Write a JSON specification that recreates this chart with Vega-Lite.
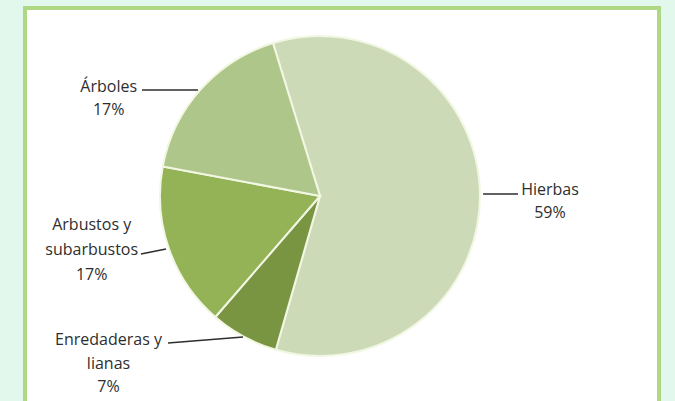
{
  "$schema": "https://vega.github.io/schema/vega-lite/v6.json",
  "width": 634,
  "height": 400,
  "padding": {"left": 25, "top": 8, "right": 16, "bottom": -7},
  "background": "#e3f8ed",
  "config": {
    "view": {"fill": "#ffffff", "stroke": "#afd885", "strokeWidth": 4},
    "text": {"font": "Open Sans", "fontSize": 16, "color": "#2e2e2e"}
  },
  "data": {
    "values": [
      {"categoria": "Hierbas", "etiqueta": "Hierbas", "valor": 59.2, "orden": 1},
      {"categoria": "Enredaderas y lianas", "etiqueta": "Enredaderas y\nlianas", "valor": 6.9, "orden": 2},
      {"categoria": "Arbustos y subarbustos", "etiqueta": "Arbustos y\nsubarbustos", "valor": 16.6, "orden": 3},
      {"categoria": "Árboles", "etiqueta": "Árboles", "valor": 17.3, "orden": 4}
    ]
  },
  "transform": [
    {"window": [{"op": "sum", "field": "valor", "as": "acum"}], "sort": [{"field": "orden"}], "frame": [null, 0]},
    {"calculate": "datum.acum - datum.valor / 2", "as": "medio"},
    {"calculate": "datum.etiqueta + '\\n' + format(datum.valor / 100, '.0%')", "as": "etq"}
  ],
  "encoding": {
    "x": {"datum": 0, "type": "quantitative", "scale": {"domain": [-1.84375, 2.11875], "nice": false, "zero": false}, "axis": null},
    "y": {"datum": 0, "type": "quantitative", "scale": {"domain": [-1.325, 1.175], "nice": false, "zero": false}, "axis": null}
  },
  "layer": [
    {
      "mark": {"type": "arc", "radius": 160, "stroke": "#f2f7e4", "strokeWidth": 2},
      "encoding": {
        "theta": {"field": "valor", "type": "quantitative", "stack": true, "scale": {"domain": [0, 100], "range": [-0.29845, 5.98474]}},
        "color": {
          "field": "categoria", "type": "nominal", "legend": null,
          "scale": {
            "domain": ["Hierbas", "Enredaderas y lianas", "Arbustos y subarbustos", "Árboles"],
            "range": ["#cddab7", "#7a9542", "#94b357", "#afc68a"]
          }
        },
        "order": {"field": "orden", "type": "quantitative"}
      }
    },
    {
      "transform": [{"filter": "datum.orden === 1"}],
      "mark": {"type": "text", "radius": 230, "dx": 0, "dy": 1, "align": "center", "baseline": "alphabetic", "lineBreak": "\n", "lineHeight": 23},
      "encoding": {"theta": {"field": "medio", "type": "quantitative", "stack": null}, "text": {"field": "etq"}}
    },
    {
      "transform": [{"filter": "datum.orden === 2"}],
      "mark": {"type": "text", "radius": 232, "dx": -101, "dy": -55, "align": "center", "baseline": "alphabetic", "lineBreak": "\n", "lineHeight": 23.5},
      "encoding": {"theta": {"field": "medio", "type": "quantitative", "stack": null}, "text": {"field": "etq"}}
    },
    {
      "transform": [{"filter": "datum.orden === 3"}],
      "mark": {"type": "text", "radius": 227, "dx": -14, "dy": -41, "align": "center", "baseline": "alphabetic", "lineBreak": "\n", "lineHeight": 25},
      "encoding": {"theta": {"field": "medio", "type": "quantitative", "stack": null}, "text": {"field": "etq"}}
    },
    {
      "transform": [{"filter": "datum.orden === 4"}],
      "mark": {"type": "text", "radius": 227, "dx": -42, "dy": 47, "align": "center", "baseline": "alphabetic", "lineBreak": "\n", "lineHeight": 23},
      "encoding": {"theta": {"field": "medio", "type": "quantitative", "stack": null}, "text": {"field": "etq"}}
    },
    {
      "transform": [{"filter": "datum.orden === 1"}],
      "mark": {"type": "rule", "color": "#2e2e2e", "strokeWidth": 1.5},
      "encoding": {
        "x": {"datum": 1.019, "type": "quantitative"}, "y": {"datum": 0.0125, "type": "quantitative"},
        "x2": {"datum": 1.2375}, "y2": {"datum": 0.0125}
      }
    },
    {
      "transform": [{"filter": "datum.orden === 2"}],
      "mark": {"type": "rule", "color": "#2e2e2e", "strokeWidth": 1.5},
      "encoding": {
        "x": {"datum": -0.95, "type": "quantitative"}, "y": {"datum": -0.919, "type": "quantitative"},
        "x2": {"datum": -0.481}, "y2": {"datum": -0.881}
      }
    },
    {
      "transform": [{"filter": "datum.orden === 3"}],
      "mark": {"type": "rule", "color": "#2e2e2e", "strokeWidth": 1.5},
      "encoding": {
        "x": {"datum": -1.119, "type": "quantitative"}, "y": {"datum": -0.3625, "type": "quantitative"},
        "x2": {"datum": -0.9625}, "y2": {"datum": -0.331}
      }
    },
    {
      "transform": [{"filter": "datum.orden === 4"}],
      "mark": {"type": "rule", "color": "#2e2e2e", "strokeWidth": 1.5},
      "encoding": {
        "x": {"datum": -1.1125, "type": "quantitative"}, "y": {"datum": 0.6625, "type": "quantitative"},
        "x2": {"datum": -0.7625}, "y2": {"datum": 0.6625}
      }
    }
  ]
}
